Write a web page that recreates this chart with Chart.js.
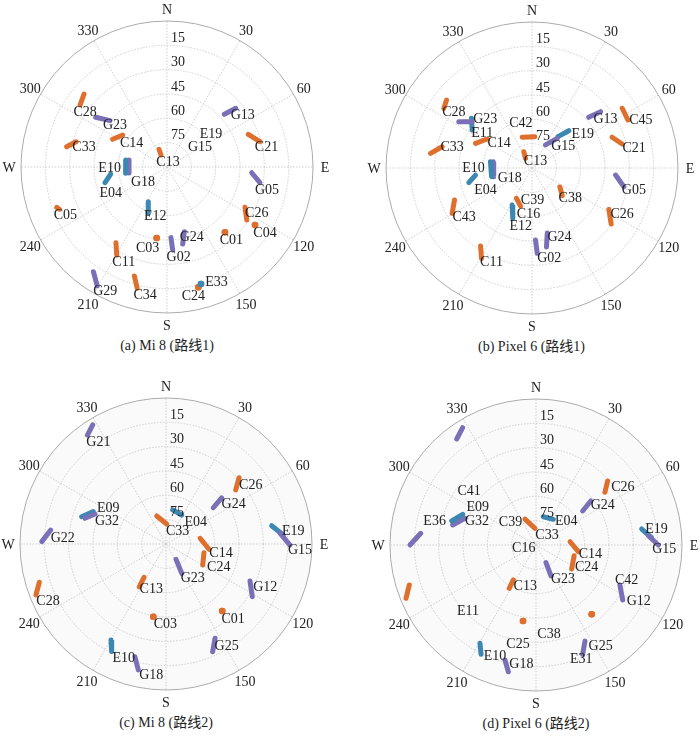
<!DOCTYPE html>
<html>
<head>
<meta charset="utf-8">
<script src="https://cdn.jsdelivr.net/npm/chart.js@4/dist/chart.umd.min.js"></script>
<style>
  body { margin: 0; width: 700px; height: 737px; background: #fff; position: relative; overflow: hidden;
         font-family: 'Liberation Serif', 'Times New Roman', 'Noto Sans CJK SC', serif; }
  canvas { position: absolute; }
  .cap { position: absolute; width: 300px; text-align: center; font-size: 14px; color: #222; line-height: 16px; }
</style>
</head>
<body>
<canvas id="sky_a" width="340" height="340"></canvas>
<canvas id="sky_b" width="340" height="340"></canvas>
<canvas id="sky_c" width="340" height="340"></canvas>
<canvas id="sky_d" width="340" height="340"></canvas>
<div class="cap" id="cap_a">(a) Mi 8 (路线1)</div>
<div class="cap" id="cap_b">(b) Pixel 6 (路线1)</div>
<div class="cap" id="cap_c">(c) Mi 8 (路线2)</div>
<div class="cap" id="cap_d">(d) Pixel 6 (路线2)</div>
<script>
// satellite tracks: name, azimuth start, elevation start, azimuth end, elevation end (degrees)
const tracksA = [
  ['C28', 311.3, 21.9, 305.5, 24.2], ['G23', 304.9, 36.4, 309.1, 44.7], ['C14', 297, 52.4, 305.8, 56.3],
  ['C33', 281.4, 26.9, 285.5, 31.8], ['E10', 279.6, 64.2, 261.3, 64.2], ['G18', 280.4, 66.2, 261, 66.3],
  ['E04', 255.8, 50.6, 262.9, 55], ['C13', 335.7, 78, 333.4, 81.7], ['C05', 249.9, 17.6, 248.6, 18.7],
  ['E12', 208.3, 65.7, 202, 59.2], ['C03', 188.3, 45.8, 188.3, 45.8], ['C11', 214, 33.7, 209.7, 27.5],
  ['G02', 176.8, 46.4, 176.1, 38.7], ['G24', 165, 48.7, 168.5, 41.5], ['G29', 215.1, 11.1, 210.4, 5],
  ['C34', 196.7, 19.9, 193.8, 13], ['G13', 47.4, 42, 49.5, 34.3], ['C21', 68.1, 36, 74.8, 30.6],
  ['G05', 93.9, 37.7, 99.6, 31.9], ['C26', 117.3, 35.9, 123.6, 31], ['C04', 123.4, 25, 123.4, 25],
  ['C01', 138.4, 36.2, 138.4, 36.2], ['E33', 163.8, 14.9, 163.8, 14.9], ['C24', 165.4, 13.4, 165.4, 13.4]
];
const tagsOnlyA = [['E19', 53.1, 56.1], ['G15', 58.8, 66.2]];

const tracksB = [
  ['C28', 308.5, 22.7, 304.1, 24.4], ['G23', 302.3, 36.6, 307.7, 43.4], ['E11', 309.4, 41.7, 302.4, 46.3],
  ['C14', 293.6, 52, 302.9, 57.1], ['C33', 278.2, 26.8, 283.3, 33.1], ['C42', 342.3, 70.1, 5.1, 70.6],
  ['G15', 30.4, 73.5, 40.3, 66], ['E19', 39.7, 64.9, 44.6, 57.7], ['C13', 333.3, 78.8, 326.2, 82.8],
  ['G13', 48.2, 43.1, 50.6, 35.3], ['C45', 56.5, 23.3, 63.4, 23.9], ['C21', 69, 37.1, 75.1, 32.5],
  ['G05', 94.8, 38.3, 101.5, 32.2], ['C38', 124.3, 69.2, 132.3, 64.8], ['C26', 118.3, 36.2, 125.3, 30.2],
  ['G24', 166.8, 48.8, 169.6, 40.5], ['G02', 177.2, 45.6, 176.5, 37.3], ['C39', 207.1, 69, 196.8, 65.5],
  ['E12', 208.2, 64.1, 200.9, 56.8], ['E10', 278.6, 64.1, 257.9, 64.5], ['G18', 279.2, 65.8, 257.2, 65.8],
  ['E04', 256.9, 50, 262.9, 54.9], ['C43', 247.6, 38.3, 240.4, 33.4], ['C11', 213.4, 32.4, 209.2, 26.2]
];
const tagsOnlyB = [['C16', 184.3, 61.4]];

const tracksC = [
  ['G21', 328.4, 3.8, 324.2, 7.2], ['G32', 287.6, 37.6, 292.9, 42.5], ['E09', 287.9, 35.4, 294, 40.9],
  ['G22', 271.1, 13.4, 276.9, 18.4], ['C28', 253.2, 8.4, 248.6, 3.9], ['C33', 341.6, 71.8, 2, 77.7],
  ['E04', 11.1, 68.6, 28.4, 69.7], ['C14', 80.5, 68.7, 97, 63.3], ['C24', 102.9, 66, 119.8, 63.9],
  ['G23', 146.8, 78.7, 151.8, 69.5], ['C13', 213.5, 65.4, 212, 58.9], ['C03', 189.9, 44.5, 189.9, 44.5],
  ['E10', 209.8, 21.8, 206.8, 15.7], ['G18', 195.4, 17.9, 192.4, 10.5], ['G24', 52.5, 53.3, 50.3, 45.4],
  ['C26', 47.8, 29.2, 52.2, 35.6], ['G15', 84.6, 19.4, 90.5, 13.6], ['E19', 80.2, 23.9, 85.6, 17.5],
  ['G12', 113.8, 33.4, 121.4, 27.7], ['C01', 140, 36.1, 140, 36.1], ['G25', 152.5, 24.5, 156.6, 17.6]
];
const tagsOnlyC = [];

const tracksD = [
  ['G21', 328, 4.7, 323.2, 8.4], ['E09', 285.9, 36, 292.7, 41], ['G32', 283.5, 37.2, 290.6, 43.2],
  ['G22', 270, 12.3, 275.8, 18.6], ['C28', 252.5, 8.1, 247.7, 3.4], ['E10', 209.7, 20.3, 206.7, 14.6],
  ['G18', 195.1, 16.6, 192.3, 10], ['C33', 336.8, 72.7, 356.6, 79.7], ['E04', 14.5, 72, 34, 70.9],
  ['C13', 213, 64.3, 211.7, 58.6], ['G23', 150.5, 77.5, 154.2, 68.8], ['C14', 84.5, 68.9, 99, 63.6],
  ['C24', 105.7, 65.6, 123.9, 63.5], ['C26', 48.2, 30.8, 52.6, 36.5], ['G24', 53.9, 54.4, 51.2, 46.7],
  ['G15', 85.3, 20.5, 90, 14.6], ['E19', 81.4, 24.1, 86.4, 18.6], ['G12', 115.5, 32.7, 122.4, 26.7],
  ['C01', 141.2, 35.2, 141.2, 35.2], ['C03', 189.7, 42.5, 189.7, 42.5], ['G25', 153, 23.5, 156.9, 16.7]
];
const tagsOnlyD = [
  ['C41', 308.9, 37], ['E36', 283.3, 25.8], ['C39', 311.2, 69.1], ['C16', 254.9, 82.2], ['E11', 225.9, 31.6],
  ['C38', 171.7, 34.4], ['C25', 190.3, 27.8], ['E31', 158.3, 14.4], ['C42', 111.1, 30.1]
];

// axis labels
const ringLevels = [15, 30, 45, 60, 75];
const azimuthTicks = ['N', '30', '60', 'E', '120', '150', 'S', '210', '240', 'W', '300', '330'];

// label offsets in px from the end of each track (no entry = no label)
const tagOffsetA = {
  C28: [5, 7], G23: [5, 5], C14: [9, 8], C33: [8, 6], E10: [-16, -5], G18: [14, 9], E04: [0, 19], C13: [7, 7],
  C05: [6, 6], E12: [7, 3], C03: [-9, 10], C11: [7, 7], G02: [6, 7], G24: [9, -7], G29: [8, 5], C34: [8, 7],
  G13: [7, 7], C21: [6.5, 6], G05: [7, 8], C26: [10, -7], C04: [10, 8], C01: [6.5, 8], E33: [15.5, -2], C24: [-5, 9.5]
};
const tagOffsetB = {
  C28: [10, 4], G23: [13, -2], E11: [10, 3], C14: [12, 4], C33: [10, 1], C42: [-14, -13], E19: [14, 4], G15: [6, 8],
  C13: [10, 3], G13: [5, 8], C45: [13, 0], C21: [12, 4], G05: [10, 4], C38: [8, 3], C26: [11, -10], G24: [13, -10],
  G02: [12, 5], C39: [12, -6], E12: [8, 8], E10: [-18, -8], G18: [16, 2], E04: [10, 15], C43: [12, 4], C11: [10, 4]
};
const tagOffsetC = {
  G21: [11, 7], E09: [15, -3], G32: [12, 7], G22: [12, 8], C28: [12, 6], C33: [11, 7], E04: [14, 7], C14: [12, 4],
  C24: [16, 2], G23: [11, 5], C13: [12, 3], C03: [12, 8], E10: [12, 7], G18: [13, 5], G24: [12, 7], C26: [15, -5],
  E19: [10, -4], G15: [10, 5], G12: [13, -9], C01: [11, 8], G25: [14, -5]
};
const tagOffsetD = {
  E09: [15, -7], G32: [12, 3], E10: [14, 2], G18: [13, -7], C33: [12, 7], E04: [13, 2], C13: [16, -2], G23: [12, 3],
  C14: [12, 3], C24: [15, -2], C26: [18, -5], G24: [12, 4], E19: [5, -8], G15: [6, 4], G12: [16, 1], G25: [18, -8]
};

const colours = { C: '#df6f2d', G: '#7a70b8', E: '#3d88b2' };
const labelFont = "14px 'Liberation Serif', 'Times New Roman', serif";

function toXY(az, el) {
  const r = 90 - el, a = az * Math.PI / 180;
  return { x: r * Math.sin(a), y: r * Math.cos(a) };
}

function skyPlugin(tagOffset, tagsOnly, fill) {
  return {
    id: 'skyGrid',
    beforeDatasetsDraw(chart) {
      const { ctx } = chart;
      const sx = chart.scales.x, sy = chart.scales.y;
      const cx = sx.getPixelForValue(0), cy = sy.getPixelForValue(0);
      const R = sx.getPixelForValue(90) - cx;
      ctx.save();
      ctx.beginPath();
      ctx.arc(cx, cy, R, 0, 2 * Math.PI);
      ctx.fillStyle = fill;
      ctx.fill();
      ctx.strokeStyle = '#cfcfcf';
      ctx.lineWidth = 1;
      ctx.setLineDash([1.5, 1.5]);
      ringLevels.forEach(function (el) {
        const r = sx.getPixelForValue(90 - el) - cx;
        ctx.beginPath();
        ctx.arc(cx, cy, r, 0, 2 * Math.PI);
        ctx.stroke();
      });
      for (let i = 0; i < 12; i++) {
        const a = i * 30 * Math.PI / 180;
        ctx.beginPath();
        ctx.moveTo(cx, cy);
        ctx.lineTo(cx + R * Math.sin(a), cy - R * Math.cos(a));
        ctx.stroke();
      }
      ctx.setLineDash([]);
      ctx.strokeStyle = '#ababab';
      ctx.beginPath();
      ctx.arc(cx, cy, R, 0, 2 * Math.PI);
      ctx.stroke();
      ctx.restore();
    },
    afterDatasetsDraw(chart) {
      const { ctx } = chart;
      const sx = chart.scales.x, sy = chart.scales.y;
      const cx = sx.getPixelForValue(0), cy = sy.getPixelForValue(0);
      const R = sx.getPixelForValue(90) - cx;
      ctx.save();
      ctx.font = labelFont;
      ctx.fillStyle = '#222';
      ctx.textBaseline = 'middle';
      // elevation ring labels
      ctx.textAlign = 'left';
      ringLevels.forEach(function (el) {
        const r = sx.getPixelForValue(90 - el) - cx;
        ctx.fillText(String(el), cx + 4, cy - r - 7);
      });
      // azimuth labels
      ctx.textAlign = 'center';
      azimuthTicks.forEach(function (t, i) {
        const a = i * 30 * Math.PI / 180;
        const rr = R + 12;
        ctx.fillText(t, cx + rr * Math.sin(a), cy - rr * Math.cos(a) + 1);
      });
      // satellite names
      chart.data.datasets.forEach(function (ds) {
        const off = tagOffset[ds.label];
        if (!off) return;
        const p = ds.data[ds.data.length - 1];
        ctx.fillText(ds.label, sx.getPixelForValue(p.x) + off[0], sy.getPixelForValue(p.y) + off[1]);
      });
      tagsOnly.forEach(function (t) {
        const p = toXY(t[1], t[2]);
        ctx.fillText(t[0], sx.getPixelForValue(p.x), sy.getPixelForValue(p.y));
      });
      ctx.restore();
    }
  };
}

function DrawSkyPlot(id, capId, cx, cy, tracks, tagOffset, tagsOnly, fill) {
  const canvas = document.getElementById(id);
  canvas.style.left = (cx - 170) + 'px';
  canvas.style.top = (cy - 170) + 'px';
  const cap = document.getElementById(capId);
  cap.style.left = (cx - 150) + 'px';
  cap.style.top = (cy + 171) + 'px';

  const datasets = [];
  for (let i = 0; i < tracks.length; i++) {
    const t = tracks[i];
    const c = colours[t[0][0]];
    const dot = t[1] === t[3] && t[2] === t[4];
    datasets.push({
      label: t[0],
      data: [toXY(t[1], t[2]), toXY(t[3], t[4])],
      showLine: !dot,
      borderColor: c,
      backgroundColor: c,
      borderWidth: 5,
      borderCapStyle: 'round',
      pointRadius: dot ? 3.3 : 0,
      pointBorderWidth: 0,
      clip: false
    });
  }

  new Chart(canvas, {
    type: 'scatter',
    data: { datasets: datasets },
    options: {
      responsive: false,
      animation: false,
      devicePixelRatio: 1,
      layout: { padding: 24 },
      scales: {
        x: { type: 'linear', min: -90, max: 90, display: false },
        y: { type: 'linear', min: -90, max: 90, display: false }
      },
      plugins: { legend: { display: false }, tooltip: { enabled: false } }
    },
    plugins: [skyPlugin(tagOffset, tagsOnly, fill)]
  });
}

DrawSkyPlot('sky_a', 'cap_a', 167, 167, tracksA, tagOffsetA, tagsOnlyA, '#ffffff');
DrawSkyPlot('sky_b', 'cap_b', 531.5, 168, tracksB, tagOffsetB, tagsOnlyB, '#ffffff');
DrawSkyPlot('sky_c', 'cap_c', 166, 544, tracksC, tagOffsetC, tagsOnlyC, '#fafafa');
DrawSkyPlot('sky_d', 'cap_d', 536, 545, tracksD, tagOffsetD, tagsOnlyD, '#fafafa');
</script>
</body>
</html>
